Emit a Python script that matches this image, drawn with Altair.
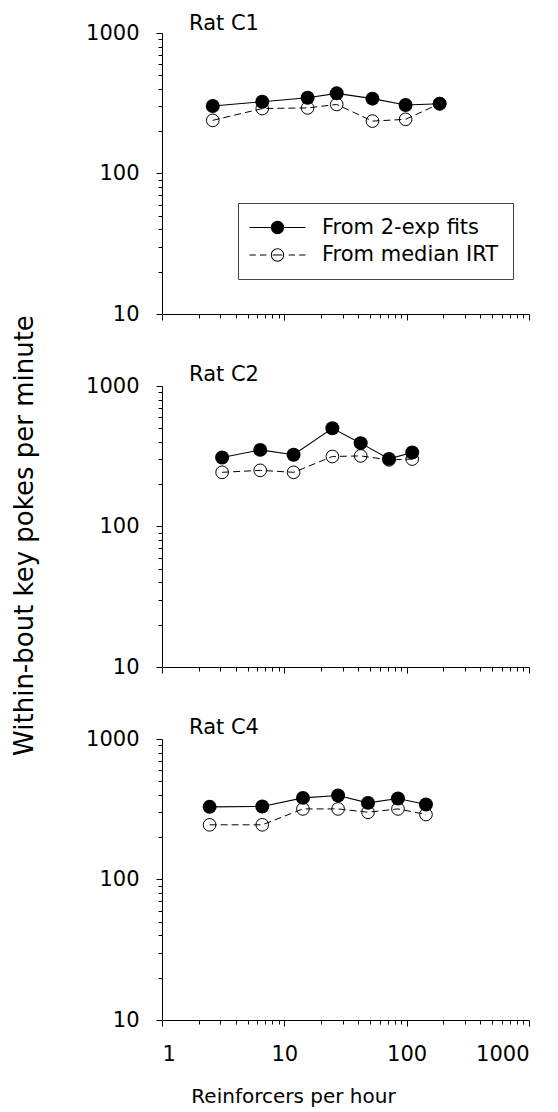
import altair as alt
import pandas as pd

FONT = "DejaVu Sans"

rat_titles = ["Rat C1", "Rat C2", "Rat C4"]
series_names = ["From 2-exp fits", "From median IRT"]

c1_rate = [2.6, 6.6, 15.5, 26.8, 52.5, 98, 186]
c1_fits = [302, 324, 346, 372, 341, 307, 314]
c1_median = [239, 290, 293, 310, 236, 243, 314]

c2_rate = [3.1, 6.35, 11.9, 24.7, 42.1, 71.7, 111]
c2_fits = [310, 351, 324, 500, 392, 303, 336]
c2_median = [243, 251, 243, 315, 318, 298, 302]

c4_rate = [2.45, 6.6, 14.2, 27.5, 48.3, 84.9, 143.8]
c4_fits = [329, 331, 381, 396, 351, 377, 342]
c4_median = [245, 245, 318, 318, 301, 318, 290]

x_major = [1, 10, 100, 1000]
x_minor = [2, 3, 4, 5, 6, 7, 8, 9, 20, 30, 40, 50, 60, 70, 80, 90,
           200, 300, 400, 500, 600, 700, 800, 900]
y_major = [10, 100, 1000]
y_minor = [20, 30, 40, 50, 60, 70, 80, 90, 200, 300, 400, 500, 600, 700, 800, 900]


def seg(a, b, h=0.08):
    return f"M{a},{-h}H{b}V{h}H{a}Z"


def ring(r, clockwise):
    s = 1 if clockwise else 0
    return f"M{-r},0A{r},{r} 0 1,{s} {r},0A{r},{r} 0 1,{s} {-r},0Z"


path_filled = seg(-4, -0.9) + seg(0.9, 4) + ring(0.95, False)
path_open = (seg(-4, -3.1) + seg(-2.5, -1.6) + seg(-0.7, 0.7) + seg(1.6, 2.5)
             + seg(3.1, 4) + ring(0.95, False) + ring(0.81, True))

xscale = alt.Scale(type="log", domain=[1, 1000], nice=False)
yscale = alt.Scale(type="log", domain=[10, 1000], nice=False)


def panel(title, rate, fits, med, bottom, mid, legend, title_dy):
    df = pd.DataFrame({"rate": rate, "fits": fits, "median": med})
    base = alt.Chart(df)

    xmaj_kw = dict(values=x_major, tickSize=6, labels=bottom, format="d",
                   labelPadding=17, labelFontSize=21, labelFont=FONT,
                   labelColor="black")
    if bottom:
        xmaj_kw.update(title="Reinforcers per hour", titleFontSize=20,
                       titleFont=FONT, titleFontWeight="normal",
                       titleColor="black", titlePadding=22, titleX=131,
                       titleAnchor="start", titleAlign="center")
    else:
        xmaj_kw.update(title=None)
    x_major_axis = alt.Axis(orient="bottom", **xmaj_kw)
    x_minor_axis = alt.Axis(orient="bottom", values=x_minor, tickSize=4,
                            labels=False, domain=False, title=None)

    ymaj_kw = dict(values=y_major, tickSize=6, format="d", labelPadding=17,
                   labelFontSize=21, labelFont=FONT, labelColor="black")
    if mid:
        ymaj_kw.update(title="Within-bout key pokes per minute",
                       titleFontSize=26, titleFont=FONT,
                       titleFontWeight="normal", titleColor="black",
                       titleX=-138, titleY=149, titleBaseline="middle",
                       titleAlign="center", titleAngle=270)
    else:
        ymaj_kw.update(title=None)
    y_major_axis = alt.Axis(orient="left", **ymaj_kw)
    y_minor_axis = alt.Axis(orient="left", values=y_minor, tickSize=4,
                            labels=False, domain=False, title=None)

    fit_line = base.mark_line(color="black", strokeWidth=1.1).encode(
        x=alt.X("rate:Q", scale=xscale, axis=x_major_axis),
        y=alt.Y("fits:Q", scale=yscale, axis=y_major_axis),
    )
    med_line = base.mark_line(color="black", strokeWidth=1,
                              strokeDash=[7, 4]).encode(
        x=alt.X("rate:Q", scale=xscale, axis=x_minor_axis),
        y=alt.Y("median:Q", scale=yscale, axis=y_minor_axis),
    )
    med_pts = base.mark_point(filled=False, color="black", size=160,
                              strokeWidth=1, opacity=1).encode(
        x=alt.X("rate:Q", scale=xscale, axis=None),
        y=alt.Y("median:Q", scale=yscale, axis=None),
    )
    fit_pts = base.mark_point(filled=True, color="black", size=195,
                              opacity=1).encode(
        x=alt.X("rate:Q", scale=xscale, axis=None),
        y=alt.Y("fits:Q", scale=yscale, axis=None),
    )
    layers = [fit_line, med_line, med_pts, fit_pts]
    if legend:
        leg_df = pd.DataFrame({"series": series_names})
        leg = alt.Chart(leg_df).mark_point(
            filled=True, color="black", strokeWidth=0, opacity=1
        ).encode(
            shape=alt.Shape(
                "series:N",
                scale=alt.Scale(domain=series_names,
                                range=[path_filled, path_open]),
                legend=alt.Legend(
                    orient="none", legendX=76, legendY=170, title=None,
                    padding=14, strokeColor="#444", symbolSize=196,
                    symbolOffset=15, labelOffset=34, labelFont=FONT,
                    labelFontSize=21, labelColor="black", rowPadding=5.5,
                    labelLimit=400,
                    symbolFillColor="black", symbolStrokeWidth=0,
                    symbolOpacity=1, direction="vertical",
                ),
            )
        ).transform_filter("false")
        layers.append(leg)
    return alt.layer(*layers).resolve_axis(
        x="independent", y="independent"
    ).properties(
        width=367, height=281,
        title=alt.TitleParams(title, anchor="start", dx=27, dy=title_dy,
                              fontSize=21, font=FONT, fontWeight="normal",
                              color="black", offset=4, baseline="alphabetic",
                              frame="group"),
    )


p1 = panel(rat_titles[0], c1_rate, c1_fits, c1_median, False, False, True, 33)
p2 = panel(rat_titles[1], c2_rate, c2_fits, c2_median, False, True, False, 91)
p3 = panel(rat_titles[2], c4_rate, c4_fits, c4_median, True, False, False, 31)

chart = alt.vconcat(p1, p2, p3, spacing=72, bounds="flush").resolve_scale(
    shape="independent"
).resolve_legend(shape="independent").properties(
    padding={"left": 2, "top": 5, "right": 5, "bottom": 2}
).configure_view(stroke=None).configure_axis(
    domainColor="black", tickColor="black", grid=False, domainWidth=1,
    tickWidth=1
)

chart.save("out.html", embed_options={"renderer": "svg", "actions": False})
